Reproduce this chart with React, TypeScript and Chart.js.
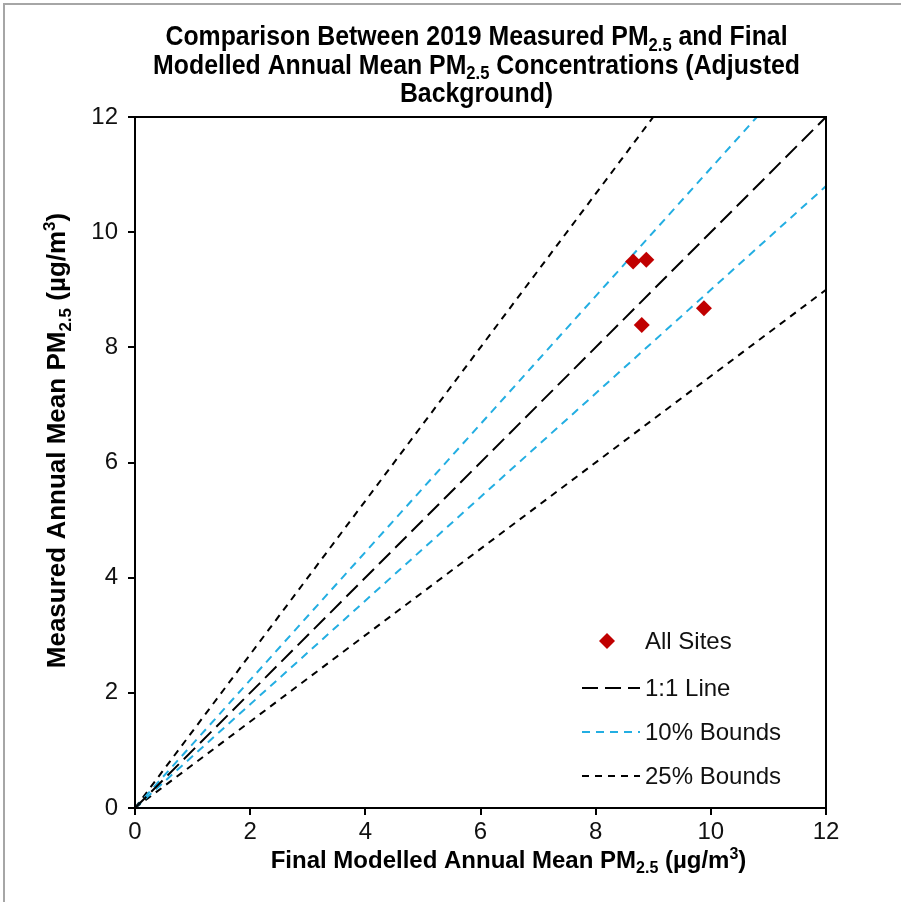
import React, { useEffect, useRef } from "react";
import { Chart, registerables } from "chart.js";

Chart.register(...registerables);

// ---- data ----
const SITE_MODELLED = [8.65, 8.88, 8.8, 9.88];
const SITE_MEASURED = [9.49, 9.52, 8.39, 8.68];

const LINE_1TO1_X = [0, 12];
const LINE_1TO1_Y = [0, 12];
const UPPER10_X = [0, 10.8];
const UPPER10_Y = [0, 12];
const LOWER10_X = [0, 12];
const LOWER10_Y = [0, 10.8];
const UPPER25_X = [0, 9];
const UPPER25_Y = [0, 12];
const LOWER25_X = [0, 12];
const LOWER25_Y = [0, 9];

const AXIS_MIN = 0;
const AXIS_MAX = 12;
const AXIS_STEP = 2;

const LEGEND_LABELS = ["All Sites", "1:1 Line", "10% Bounds", "25% Bounds"];

// ---- styles ----
const RED = "#C00000";
const BLUE = "#23AEE2";
const FONT = "'Liberation Sans', Arial, sans-serif";

type Seg = [string, ("n" | "sub" | "sup")?];

const TITLE_LINES: Seg[][] = [
  [["Comparison Between 2019 Measured PM"], ["2.5", "sub"], [" and Final"]],
  [["Modelled Annual Mean PM"], ["2.5", "sub"], [" Concentrations (Adjusted"]],
  [["Background)"]],
];
const X_TITLE: Seg[] = [["Final Modelled Annual Mean PM"], ["2.5", "sub"], [" (µg/m"], ["3", "sup"], [")"]];
const Y_TITLE: Seg[] = [["Measured Annual Mean PM"], ["2.5", "sub"], [" (µg/m"], ["3", "sup"], [")"]];

function segFont(size: number, bold: boolean, kind?: string) {
  const s = kind === "sub" || kind === "sup" ? Math.round(size * 0.65) : size;
  return `${bold ? "bold " : ""}${s}px ${FONT}`;
}

function richWidth(ctx: CanvasRenderingContext2D, segs: Seg[], size: number, bold: boolean) {
  let w = 0;
  for (const [t, k] of segs) {
    ctx.font = segFont(size, bold, k);
    w += ctx.measureText(t).width;
  }
  return w;
}

function drawRich(
  ctx: CanvasRenderingContext2D,
  segs: Seg[],
  x: number,
  y: number,
  size: number,
  bold: boolean,
  align: "left" | "center",
  sx = 1
) {
  const total = richWidth(ctx, segs, size, bold);
  ctx.save();
  ctx.translate(x, y);
  ctx.scale(sx, 1);
  let cx = align === "center" ? -total / 2 : 0;
  ctx.textAlign = "left";
  ctx.textBaseline = "alphabetic";
  for (const [t, k] of segs) {
    ctx.font = segFont(size, bold, k);
    const dy = k === "sub" ? size * 0.22 : k === "sup" ? -size * 0.38 : 0;
    ctx.fillText(t, cx, dy);
    cx += ctx.measureText(t).width;
  }
  ctx.restore();
}

const decorPlugin = {
  id: "decor",
  afterDraw(chart: any) {
    const ctx: CanvasRenderingContext2D = chart.ctx;
    const a = chart.chartArea;
    ctx.save();
    // outer border (top & left)
    ctx.fillStyle = "#A6A6A6";
    ctx.fillRect(3, 3, chart.width - 3, 2);
    ctx.fillRect(3, 3, 2, chart.height - 3);

    // plot frame
    ctx.strokeStyle = "#000";
    ctx.lineWidth = 2;
    ctx.setLineDash([]);
    ctx.strokeRect(a.left, a.top, a.right - a.left, a.bottom - a.top);

    ctx.fillStyle = "#000";
    // title
    const tcx = (a.left + a.right) / 2 - 4;
    TITLE_LINES.forEach((ln, i) => {
      drawRich(ctx, ln, tcx, 45 + i * 28.5, 27, true, "center", 0.92);
    });

    // x title
    drawRich(ctx, X_TITLE, (a.left + a.right) / 2 + 28, a.bottom + 60, 24, true, "center");

    // y title
    ctx.save();
    ctx.translate(a.left - 70, (a.top + a.bottom) / 2 - 22);
    ctx.rotate(-Math.PI / 2);
    drawRich(ctx, Y_TITLE, 0, 0, 26, true, "center");
    ctx.restore();

    // legend
    const lx = a.left + 447;
    const tx = a.left + 510;
    const rows = [a.top + 524, a.top + 571, a.top + 615, a.top + 659];
    ctx.font = `24px ${FONT}`;
    ctx.textAlign = "left";
    ctx.textBaseline = "middle";
    // diamond
    const dx = lx + 25;
    const dy = rows[0];
    ctx.fillStyle = RED;
    ctx.beginPath();
    ctx.moveTo(dx, dy - 8);
    ctx.lineTo(dx + 8, dy);
    ctx.lineTo(dx, dy + 8);
    ctx.lineTo(dx - 8, dy);
    ctx.closePath();
    ctx.fill();
    const lineStyles = [
      { color: "#000", dash: [16, 7], width: 2 },
      { color: BLUE, dash: [8, 6], width: 2 },
      { color: "#000", dash: [7, 6], width: 2 },
    ];
    lineStyles.forEach((st, i) => {
      ctx.strokeStyle = st.color;
      ctx.lineWidth = st.width;
      ctx.setLineDash(st.dash);
      ctx.beginPath();
      ctx.moveTo(lx, rows[i + 1]);
      ctx.lineTo(lx + 58, rows[i + 1]);
      ctx.stroke();
    });
    ctx.setLineDash([]);
    ctx.fillStyle = "#111";
    LEGEND_LABELS.forEach((lab, i) => {
      ctx.fillText(lab, tx, rows[i] + 1);
    });
    ctx.restore();
  },
};

function pts(xs: number[], ys: number[]) {
  return xs.map((x, i) => ({ x, y: ys[i] }));
}

export default function App() {
  const ref = useRef<HTMLCanvasElement | null>(null);
  useEffect(() => {
    document.body.style.margin = "0";
    const canvas = ref.current!;
    const lineDs = (label: string, data: any, color: string, dash: number[], width: number) => ({
      type: "scatter" as const,
      label,
      data,
      showLine: true,
      borderColor: color,
      borderDash: dash,
      borderWidth: width,
      pointRadius: 0,
      fill: false,
    });
    const chart = new Chart(canvas, {
      type: "scatter",
      data: {
        datasets: [
          {
            label: LEGEND_LABELS[0],
            data: pts(SITE_MODELLED, SITE_MEASURED),
            pointStyle: "rectRot",
            pointRadius: 8,
            backgroundColor: RED,
            borderColor: RED,
            borderWidth: 0,
          },
          lineDs(LEGEND_LABELS[1], pts(LINE_1TO1_X, LINE_1TO1_Y), "#000", [16, 7], 2),
          lineDs(LEGEND_LABELS[2], pts(UPPER10_X, UPPER10_Y), BLUE, [8, 6], 2),
          lineDs(LEGEND_LABELS[2], pts(LOWER10_X, LOWER10_Y), BLUE, [8, 6], 2),
          lineDs(LEGEND_LABELS[3], pts(UPPER25_X, UPPER25_Y), "#000", [7, 6], 2),
          lineDs(LEGEND_LABELS[3], pts(LOWER25_X, LOWER25_Y), "#000", [7, 6], 2),
        ],
      },
      options: {
        responsive: false,
        animation: false,
        layout: { padding: { top: 117, right: 75, left: 0, bottom: 0 } },
        plugins: { legend: { display: false }, tooltip: { enabled: false }, title: { display: false } },
        scales: {
          x: {
            type: "linear",
            min: AXIS_MIN,
            max: AXIS_MAX,
            ticks: { stepSize: AXIS_STEP, color: "#111", font: { size: 24, family: FONT }, padding: 3 },
            grid: { drawOnChartArea: false, drawTicks: true, tickLength: 7, color: "#000", lineWidth: 2 },
            border: { display: true, color: "#000", width: 2 },
            afterFit: (s: any) => {
              s.height = 94;
            },
          },
          y: {
            type: "linear",
            min: AXIS_MIN,
            max: AXIS_MAX,
            ticks: { stepSize: AXIS_STEP, color: "#111", font: { size: 24, family: FONT }, padding: 10 },
            grid: { drawOnChartArea: false, drawTicks: true, tickLength: 7, color: "#000", lineWidth: 2 },
            border: { display: true, color: "#000", width: 2 },
            afterFit: (s: any) => {
              s.width = 135;
            },
          },
        },
      },
      plugins: [decorPlugin],
    });
    return () => chart.destroy();
  }, []);
  return (
    <div style={{ width: 901, height: 902, background: "#fff" }}>
      <canvas ref={ref} width={901} height={902} style={{ display: "block", width: 901, height: 902 }} />
    </div>
  );
}
